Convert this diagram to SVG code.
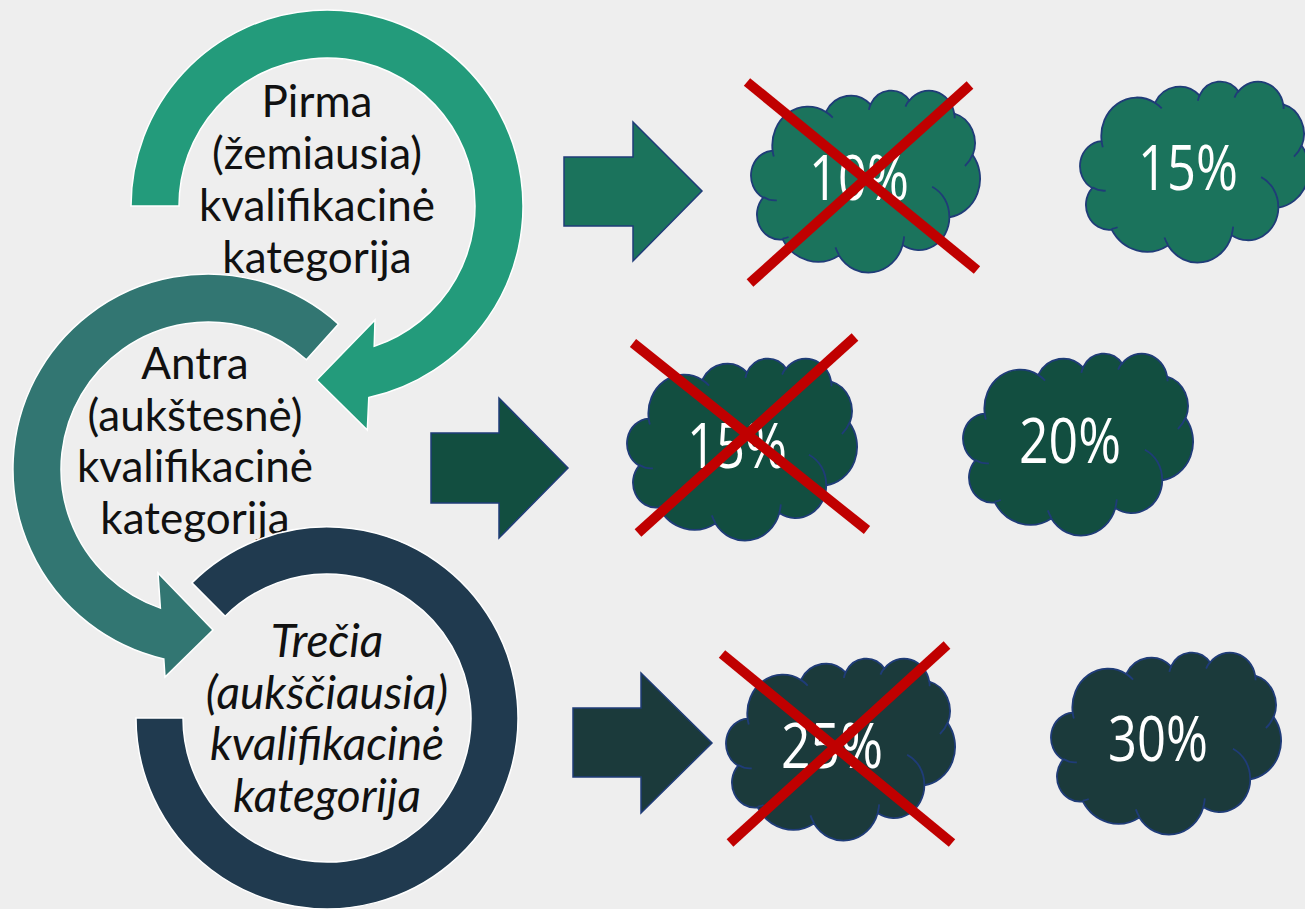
<svg xmlns="http://www.w3.org/2000/svg" xmlns:xlink="http://www.w3.org/1999/xlink" width="1305" height="909" viewBox="0 0 1305 909">
<style>
.ring{stroke:#ffffff;stroke-width:1.5}
.lbl{font-family:Lato,"Liberation Sans",sans-serif;font-size:44px;fill:#111111;text-anchor:middle}
.it{font-style:italic;font-size:46px}
.pct{font-family:"Open Sans","Liberation Sans",sans-serif;font-size:62px;font-weight:400;fill:#ffffff;text-anchor:middle}
.barrow{stroke:#1f3c78;stroke-width:1.5}
.cross{stroke:#c00000;stroke-width:10;stroke-linecap:butt}
.cl{stroke:#1f3c78;stroke-width:1.8}
.g1{fill:#1b735c}
.g2{fill:#124e40}
.g3{fill:#1b3a3b}
</style>
<defs>
<path id="cloudShape" vector-effect="non-scaling-stroke" d="M9.03,33.26 A15.63,21.27 0 0 1 32.42,12.04 A12.34,16.82 0 0 1 51.98,7.94 A10.10,13.76 0 0 1 69.06,5.74 A11.24,15.27 0 0 1 88.70,12.91 A12.34,16.84 0 0 1 96.80,35.79 A15.68,21.34 0 0 1 86.58,69.91 A13.39,18.21 0 0 1 66.10,85.21 A15.63,21.33 0 0 1 38.15,90.89 A17.87,24.41 0 0 1 13.43,82.11 A10.09,13.70 0 0 1 4.89,59.14 A10.06,13.76 0 0 1 9.03,33.26 Z"/>
<path id="cloudLines" vector-effect="non-scaling-stroke" fill="none" d="M10.86,60.60 A10.06,13.76 0 0 1 5.00,58.75 M16.04,80.78 A10.09,13.70 0 0 1 13.47,81.67 M38.14,90.49 A15.63,21.33 0 0 1 36.60,86.46 M66.73,80.44 A15.63,21.33 0 0 1 66.11,84.86 M79.00,53.13 A13.39,18.21 0 0 1 86.53,69.65 M96.75,35.54 A12.34,16.84 0 0 1 93.40,41.74 M88.71,12.56 A11.24,15.27 0 0 1 88.89,15.49 M67.31,9.15 A11.24,15.27 0 0 1 69.03,5.41 M51.25,10.93 A10.10,13.76 0 0 1 52.08,7.71 M32.41,12.02 A15.63,21.27 0 0 1 35.41,15.14 M9.55,36.55 A15.63,21.27 0 0 1 9.03,33.26"/>
</defs>
<rect x="0" y="0" width="1305" height="909" fill="#eeeeee"/>

<g id="ring-pirma">
<path class="ring" fill="#239b7b" d="M131,206 A196,196 0 1 1 368.8,397.5 L367.3,430 L316.7,380 L375,320 L374.2,346.3 A148,148 0 1 0 179,206 Z"/>
<text class="lbl" x="317" y="117">Pirma</text>
<text class="lbl" x="317" y="169">(žemiausia)</text>
<text class="lbl" x="317" y="221">kvalifikacinė</text>
<text class="lbl" x="317" y="273">kategorija</text>
</g>

<g id="ring-antra">
<path class="ring" fill="#327672" d="M338.5,324.1 A195,195 0 1 0 163.8,658.9 L165,677 L213,630 L158,573 L160.4,608.1 A147,147 0 1 1 306.4,359.8 Z"/>
<text class="lbl" x="195" y="379">Antra</text>
<text class="lbl" x="195" y="430.5">(aukštesnė)</text>
<text class="lbl" x="195" y="482">kvalifikacinė</text>
<text class="lbl" x="195" y="533.5">kategorija</text>
</g>

<g id="ring-trecia">
<path class="ring" fill="#203a4f" d="M136,718 A191,191 0 1 0 191.9,582.9 L225.2,616.2 A144,144 0 1 1 183,718 Z"/>
<text class="lbl it" x="327" y="657">Trečia</text>
<text class="lbl it" x="327" y="708.5">(aukščiausia)</text>
<text class="lbl it" x="327" y="760">kvalifikacinė</text>
<text class="lbl it" x="327" y="811.5">kategorija</text>
</g>

<g id="connectors">
<polygon class="barrow g1" points="564,157 633,157 633,122 702,191 633,261 633,226 564,226"/>
<polygon class="barrow g2" points="431,433 499,433 499,398 568,468 499,538 499,503 431,503"/>
<polygon class="barrow g3" points="573,708 641,708 641,673 712,743 641,813 641,777 573,777"/>
</g>

<g id="cloud-10">
<use xlink:href="#cloudShape" class="cl g1" transform="translate(752,90) scale(2.28,1.82)"/>
<use xlink:href="#cloudLines" class="cl" transform="translate(752,90) scale(2.28,1.82)"/>
<text class="pct" x="859" y="200" textLength="100" lengthAdjust="spacingAndGlyphs">10%</text>
</g>
<g id="cloud-15a">
<use xlink:href="#cloudShape" class="cl g1" transform="translate(1081,81) scale(2.28,1.81)"/>
<use xlink:href="#cloudLines" class="cl" transform="translate(1081,81) scale(2.28,1.81)"/>
<text class="pct" x="1188" y="190" textLength="100" lengthAdjust="spacingAndGlyphs">15%</text>
</g>
<g id="cloud-15b">
<use xlink:href="#cloudShape" class="cl g2" transform="translate(628,358) scale(2.29,1.82)"/>
<use xlink:href="#cloudLines" class="cl" transform="translate(628,358) scale(2.29,1.82)"/>
<text class="pct" x="737" y="468" textLength="100" lengthAdjust="spacingAndGlyphs">15%</text>
</g>
<g id="cloud-20">
<use xlink:href="#cloudShape" class="cl g2" transform="translate(964,353) scale(2.29,1.82)"/>
<use xlink:href="#cloudLines" class="cl" transform="translate(964,353) scale(2.29,1.82)"/>
<text class="pct" x="1070" y="463" textLength="102" lengthAdjust="spacingAndGlyphs">20%</text>
</g>
<g id="cloud-25">
<use xlink:href="#cloudShape" class="cl g3" transform="translate(727,658) scale(2.28,1.82)"/>
<use xlink:href="#cloudLines" class="cl" transform="translate(727,658) scale(2.28,1.82)"/>
<text class="pct" x="832" y="768" textLength="102" lengthAdjust="spacingAndGlyphs">25%</text>
</g>
<g id="cloud-30">
<use xlink:href="#cloudShape" class="cl g3" transform="translate(1052,652) scale(2.29,1.82)"/>
<use xlink:href="#cloudLines" class="cl" transform="translate(1052,652) scale(2.29,1.82)"/>
<text class="pct" x="1158" y="761" textLength="100" lengthAdjust="spacingAndGlyphs">30%</text>
</g>

<g id="crosses">
<line class="cross" x1="747" y1="82" x2="977" y2="270"/>
<line class="cross" x1="970" y1="85" x2="750" y2="283"/>
<line class="cross" x1="633" y1="343" x2="867" y2="530"/>
<line class="cross" x1="855" y1="337" x2="638" y2="533"/>
<line class="cross" x1="722" y1="654" x2="952" y2="843"/>
<line class="cross" x1="947" y1="645" x2="730" y2="843"/>
</g>
</svg>
